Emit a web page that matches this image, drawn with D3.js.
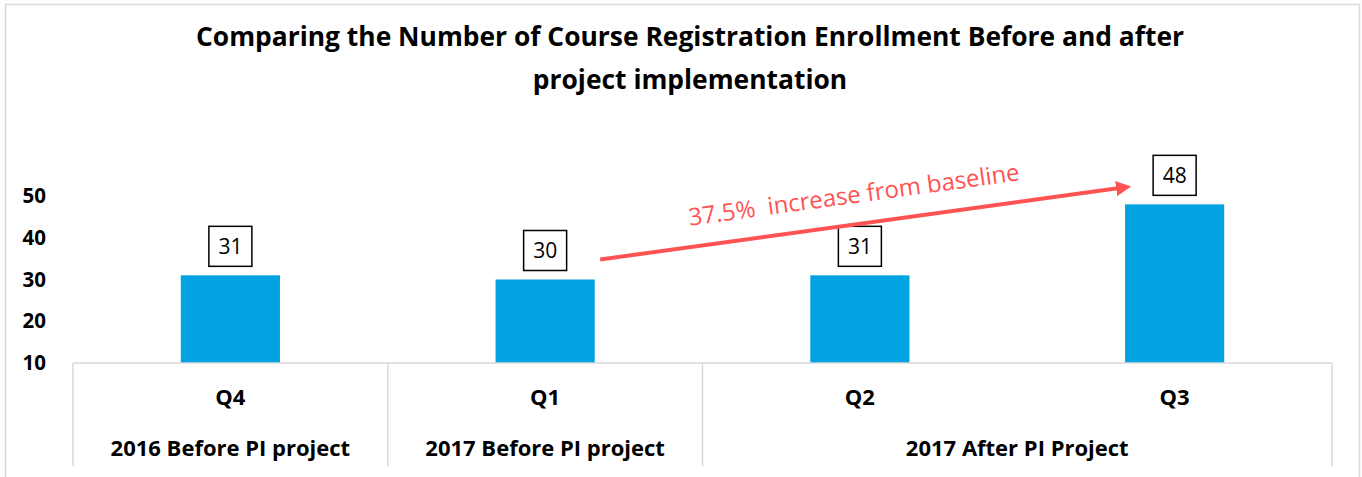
<!DOCTYPE html>
<html>
<head>
<meta charset="utf-8">
<script src="https://cdn.jsdelivr.net/npm/d3@7"></script>
<style>
  body { margin: 0; background: #fff; }
  text { font-family: "Open Sans", Lato, sans-serif; }
</style>
</head>
<body>
<div id="chart"></div>
<script>
// chart data
var quarters = ["Q4", "Q1", "Q2", "Q3"];
var enrollment = [31, 30, 31, 48];
var groups = ["2016 Before PI project", "2017 Before PI project", "2017 After PI Project"];
var groupSpans = [1, 1, 2];   // how many quarters each group covers
var yTicks = [10, 20, 30, 40, 50];
var titleLines = ["Comparing the Number of Course Registration Enrollment Before and after",
                  "project implementation"];
var arrowLabel = "37.5%  increase from baseline";

var width = 1362, height = 477;
var margin = {top: 196, left: 73, right: 30, bottom: 114};

var svg = d3.select("#chart").append("svg")
    .attr("width", width)
    .attr("height", height);

// outer frame
svg.append("rect")
    .attr("x", 5.5).attr("y", 4.5)
    .attr("width", 1354).attr("height", 490)
    .attr("fill", "none")
    .attr("stroke", "#d9d9d9")
    .attr("stroke-width", 1.5);

// title
svg.append("g").selectAll("text")
    .data(titleLines)
  .enter().append("text")
    .attr("x", 690)
    .attr("y", function(d, i) { return 46 + i * 43; })
    .attr("text-anchor", "middle")
    .style("font-size", "26.4px")
    .style("font-weight", "bold")
    .text(function(d) { return d; });

// scales
var xScale = d3.scaleBand().domain(quarters).range([margin.left, width - margin.right]),
    yScale = d3.scaleLinear().domain([10, 50]).range([height - margin.bottom, margin.top]);

var base = yScale(10);
var bw = xScale.bandwidth();

// y axis: labels only
var yAxis = d3.axisLeft(yScale).tickValues(yTicks).tickSize(0).tickPadding(0);
var gy = svg.append("g")
    .attr("transform", "translate(46,0)")
    .call(yAxis);
gy.select(".domain").remove();
gy.selectAll("text")
    .style("font-family", "'Open Sans', sans-serif")
    .style("font-size", "20.5px")
    .style("font-weight", "bold")
    .attr("fill", "#000");

// bars
var data = quarters.map(function(q, i) { return {q: q, v: enrollment[i]}; });
var barW = bw * 0.315;

svg.append("g").selectAll("rect")
    .data(data)
  .enter().append("rect")
    .attr("x", function(d) { return xScale(d.q) + bw / 2 - barW / 2; })
    .attr("y", function(d) { return yScale(d.v); })
    .attr("width", barW)
    .attr("height", function(d) { return base - yScale(d.v); })
    .attr("fill", "#00a2e1");

// value labels in boxes
var lab = svg.append("g").selectAll("g")
    .data(data)
  .enter().append("g")
    .attr("transform", function(d) {
      return "translate(" + (xScale(d.q) + bw / 2) + "," + (yScale(d.v) - 29) + ")";
    });
lab.append("rect")
    .attr("x", -21.5).attr("y", -20)
    .attr("width", 43).attr("height", 40)
    .attr("fill", "#fff")
    .attr("stroke", "#000")
    .attr("stroke-width", 1.5);
lab.append("text")
    .attr("text-anchor", "middle")
    .attr("dy", "0.36em")
    .style("font-size", "21px")
    .text(function(d) { return d.v; });

// category table
var tableBottom = 466;
var lineColor = "#d9d9d9";
svg.append("line")
    .attr("x1", margin.left).attr("x2", width - margin.right)
    .attr("y1", base).attr("y2", base)
    .attr("stroke", lineColor).attr("stroke-width", 1.5);

var edges = [0];
groupSpans.forEach(function(s, i) { edges.push(edges[i] + s); });
svg.append("g").selectAll("line")
    .data(edges)
  .enter().append("line")
    .attr("x1", function(d) { return margin.left + d * bw; })
    .attr("x2", function(d) { return margin.left + d * bw; })
    .attr("y1", base).attr("y2", tableBottom)
    .attr("stroke", lineColor).attr("stroke-width", 1.5);

svg.append("g").selectAll("text")
    .data(quarters)
  .enter().append("text")
    .attr("x", function(d) { return xScale(d) + bw / 2; })
    .attr("y", 405)
    .attr("text-anchor", "middle")
    .style("font-size", "22px")
    .style("font-weight", "bold")
    .text(function(d) { return d; });

svg.append("g").selectAll("text")
    .data(groups)
  .enter().append("text")
    .attr("x", function(d, i) { return margin.left + (edges[i] + edges[i + 1]) / 2 * bw; })
    .attr("y", 456)
    .attr("text-anchor", "middle")
    .style("font-size", "22px")
    .style("font-weight", "bold")
    .text(function(d) { return d; });

// arrow from Q1 to Q3
var red = "#ff5353";
svg.append("defs").append("marker")
    .attr("id", "head")
    .attr("viewBox", "0 0 10 10")
    .attr("refX", 1).attr("refY", 5)
    .attr("markerWidth", 3.8).attr("markerHeight", 3.8)
    .attr("orient", "auto")
  .append("path")
    .attr("d", "M0,0 L10,5 L0,10 z")
    .attr("fill", red);

var x1 = xScale("Q1") + bw / 2 + 55, y1 = yScale(enrollment[1]) - 20,
    x2 = xScale("Q3") + bw / 2 - 57, y2 = yScale(enrollment[3]) - 16;
svg.append("line")
    .attr("x1", x1).attr("y1", y1)
    .attr("x2", x2).attr("y2", y2)
    .attr("stroke", red)
    .attr("stroke-width", 4)
    .attr("marker-end", "url(#head)");

var ang = Math.atan2(y2 - y1, x2 - x1) * 180 / Math.PI;
svg.append("text")
    .attr("transform", "translate(855,203) rotate(" + ang + ")")
    .attr("text-anchor", "middle")
    .attr("fill", red)
    .style("font-size", "24px")
    .style("white-space", "pre")
    .text(arrowLabel);
</script>
</body>
</html>
